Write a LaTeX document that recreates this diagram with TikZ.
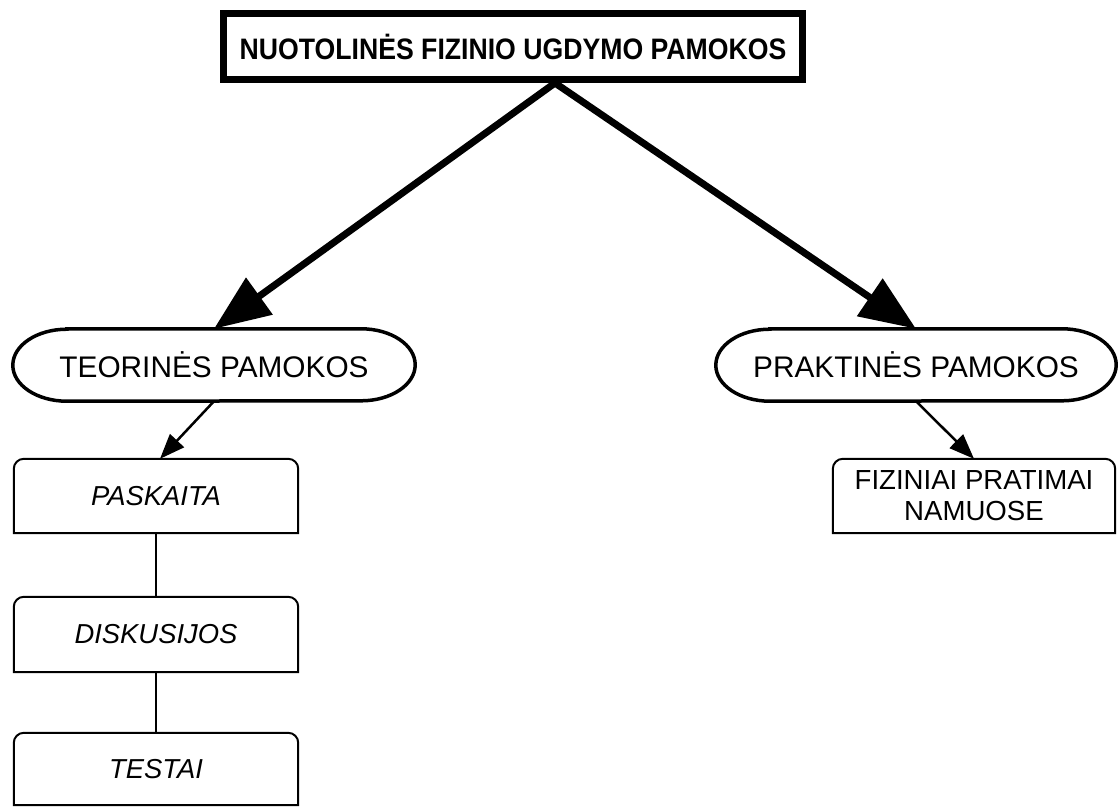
\documentclass[tikz,border=0pt]{standalone}
\usepackage{fontspec}
\setmainfont{Liberation Sans}
\newfontfamily\headfont[FakeStretch=0.9]{Liberation Sans}
\usetikzlibrary{arrows.meta,calc}
\definecolor{ink}{HTML}{000000}
\tikzset{
  ttl/.style={draw=ink,line width=7pt,minimum width=579pt,minimum height=66pt,inner sep=0pt,
    font=\headfont\fontsize{29.6}{32}\selectfont\bfseries,text=ink},
  pill/.style={minimum width=402pt,minimum height=72pt,inner sep=0pt,
    font=\fontsize{29.8}{34}\selectfont,text=ink},
  card/.style={minimum width=284pt,minimum height=74pt,inner sep=0pt,align=center,
    font=\fontsize{27.6}{31}\selectfont,text=ink},
  crd/.style={card,font=\fontsize{27.4}{31}\selectfont\itshape},
  big/.style={-{Triangle[length=56pt,width=44pt]},line width=7pt,color=ink},
  flow/.style={-{Triangle[length=25pt,width=19pt]},line width=2.5pt,color=ink},
  link/.style={line width=2pt,color=ink},
  rim/.style={line width=3.5pt,color=ink},
  cardline/.style={line width=2pt,color=ink}
}
% outline of a pill round a named node
\newcommand{\pillrim}[1]{%
  \draw[rim] ([xshift=54pt]#1.north west) -- ([xshift=-54pt]#1.north east)
    arc[start angle=90,end angle=-90,x radius=54pt,y radius=36pt]
    -- ([xshift=54pt]#1.south west)
    arc[start angle=270,end angle=90,x radius=54pt,y radius=36pt] -- cycle;}
% outline of a card, rounded at the top only
\newcommand{\cardrim}[1]{%
  \draw[cardline] (#1.south west) -- ([yshift=-10pt]#1.north west)
    arc[start angle=180,end angle=90,radius=10pt] -- ([xshift=-10pt]#1.north east)
    arc[start angle=90,end angle=0,radius=10pt] -- (#1.south east) -- cycle;}
\begin{document}
\begin{tikzpicture}[x=1pt,y=1pt]
  \useasboundingbox (0,-806) rectangle (1118,0);
  % title
  \node[ttl] (ttl) at (513,-46.5) {NUOTOLINĖS FIZINIO UGDYMO PAMOKOS};
  % the two kinds of lessons
  \node[pill] (teor) at (214,-365) {TEORINĖS PAMOKOS};
  \node[pill,minimum width=400pt] (prakt) at (916,-365) {PRAKTINĖS PAMOKOS};
  \pillrim{teor}
  \pillrim{prakt}
  % theory column
  \node[crd] (pask) at (156,-496) {PASKAITA};
  \node[crd,minimum height=75pt] (disk) at (156,-634.5) {DISKUSIJOS};
  \node[crd,minimum height=72pt] (test) at (156,-769) {TESTAI};
  % practice
  \node[card,minimum width=282pt] (fiz) at (974,-496) {FIZINIAI PRATIMAI\\NAMUOSE};
  \foreach \c in {pask,disk,test,fiz}{\cardrim{\c}}
  % arrows
  \draw[big] ([xshift=42pt]ttl.south) -- (teor.north);
  \draw[big] ([xshift=42pt]ttl.south) -- (prakt.north);
  \draw[flow] (teor.south) -- ([xshift=4pt]pask.north);
  \draw[flow] (prakt.south) -- (fiz.north);
  \foreach \a/\b in {pask/disk,disk/test}{%
    \draw[link] (\a) -- (\b);}
\end{tikzpicture}
\end{document}
